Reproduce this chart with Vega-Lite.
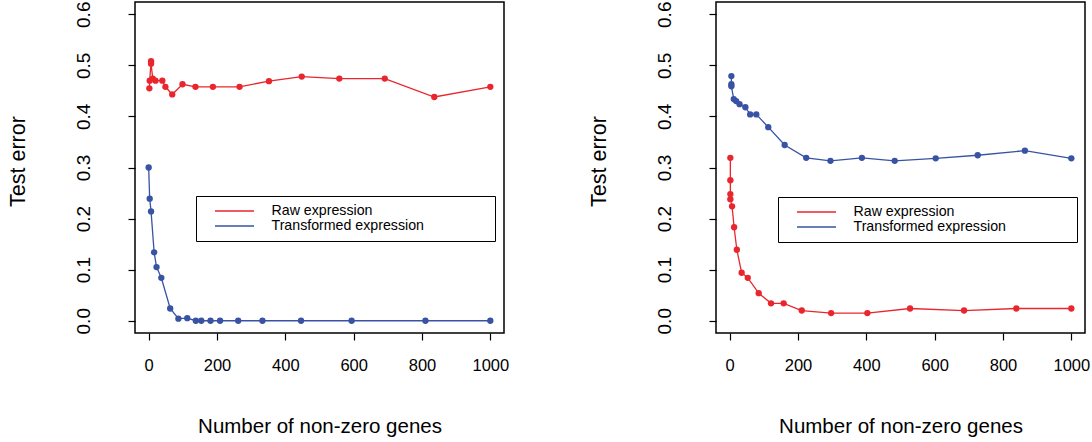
{
  "$schema": "https://vega.github.io/schema/vega-lite/v6.json",
  "padding": {"left": 6, "top": 0, "right": 0, "bottom": 0},
  "background": "white",
  "bounds": "flush",
  "spacing": 212,
  "resolve": {"legend": {"color": "independent"}},
  "config": {
    "font": "Liberation Sans",
    "view": {"stroke": "black", "strokeWidth": 1.5},
    "axis": {
      "domain": false, "grid": false, "tickColor": "black", "tickSize": 7, "tickWidth": 1.2,
      "labelFont": "Liberation Sans", "labelColor": "black",
      "titleFont": "Liberation Sans", "titleFontWeight": "normal", "titleColor": "black"
    },
    "axisX": {"labelFontSize": 16.5, "labelPadding": 17, "titleFontSize": 20.5, "titleBaseline": "alphabetic", "titleY": 99},
    "axisY": {"labelFontSize": 19, "labelAngle": -90, "labelPadding": 35, "titleFontSize": 21.5, "titleAngle": -90, "titleBaseline": "alphabetic", "titleX": -111, "titleY": 159},
    "legend": {
      "title": null, "orient": "none",
      "symbolType": "stroke", "symbolSize": 1521, "symbolStrokeWidth": 1.5,
      "clipHeight": 15, "rowPadding": 0, "padding": 7.5, "symbolOffset": 10.5, "labelOffset": 16.5,
      "labelFontSize": 14.2, "labelLimit": 500, "labelColor": "black", "strokeColor": "black", "fillColor": "white"
    }
  },
  "hconcat": [
    {
      "width": 369, "height": 331,
      "data": {"values": [
        {"series": "Raw expression", "step": 1, "n": 2, "err": 0.455},
        {"series": "Raw expression", "step": 2, "n": 3, "err": 0.470},
        {"series": "Raw expression", "step": 3, "n": 7, "err": 0.508},
        {"series": "Raw expression", "step": 4, "n": 7, "err": 0.503},
        {"series": "Raw expression", "step": 5, "n": 12, "err": 0.474},
        {"series": "Raw expression", "step": 6, "n": 20, "err": 0.470},
        {"series": "Raw expression", "step": 7, "n": 40, "err": 0.470},
        {"series": "Raw expression", "step": 8, "n": 49, "err": 0.458},
        {"series": "Raw expression", "step": 9, "n": 69, "err": 0.443},
        {"series": "Raw expression", "step": 10, "n": 99, "err": 0.463},
        {"series": "Raw expression", "step": 11, "n": 137, "err": 0.458},
        {"series": "Raw expression", "step": 12, "n": 188, "err": 0.458},
        {"series": "Raw expression", "step": 13, "n": 266, "err": 0.458},
        {"series": "Raw expression", "step": 14, "n": 352, "err": 0.469},
        {"series": "Raw expression", "step": 15, "n": 448, "err": 0.478},
        {"series": "Raw expression", "step": 16, "n": 558, "err": 0.474},
        {"series": "Raw expression", "step": 17, "n": 691, "err": 0.474},
        {"series": "Raw expression", "step": 18, "n": 836, "err": 0.438},
        {"series": "Raw expression", "step": 19, "n": 1000, "err": 0.458},
        {"series": "Transformed expression", "step": 1, "n": 0, "err": 0.300},
        {"series": "Transformed expression", "step": 2, "n": 3, "err": 0.239},
        {"series": "Transformed expression", "step": 3, "n": 7, "err": 0.214},
        {"series": "Transformed expression", "step": 4, "n": 16, "err": 0.134},
        {"series": "Transformed expression", "step": 5, "n": 23, "err": 0.105},
        {"series": "Transformed expression", "step": 6, "n": 37, "err": 0.084},
        {"series": "Transformed expression", "step": 7, "n": 63, "err": 0.024},
        {"series": "Transformed expression", "step": 8, "n": 87, "err": 0.004},
        {"series": "Transformed expression", "step": 9, "n": 113, "err": 0.005},
        {"series": "Transformed expression", "step": 10, "n": 138, "err": 0.0},
        {"series": "Transformed expression", "step": 11, "n": 154, "err": 0.0},
        {"series": "Transformed expression", "step": 12, "n": 181, "err": 0.0},
        {"series": "Transformed expression", "step": 13, "n": 209, "err": 0.0},
        {"series": "Transformed expression", "step": 14, "n": 262, "err": 0.0},
        {"series": "Transformed expression", "step": 15, "n": 333, "err": 0.0},
        {"series": "Transformed expression", "step": 16, "n": 446, "err": 0.0},
        {"series": "Transformed expression", "step": 17, "n": 594, "err": 0.0},
        {"series": "Transformed expression", "step": 18, "n": 810, "err": 0.0},
        {"series": "Transformed expression", "step": 19, "n": 1000, "err": 0.0}
      ]},
      "encoding": {
        "x": {"field": "n", "type": "quantitative", "scale": {"domain": [-40, 1040], "nice": false, "zero": false},
              "axis": {"values": [0, 200, 400, 600, 800, 1000], "format": "d", "title": "Number of non-zero genes"}},
        "y": {"field": "err", "type": "quantitative", "scale": {"domain": [-0.024, 0.624], "nice": false, "zero": false},
              "axis": {"values": [0, 0.1, 0.2, 0.3, 0.4, 0.5, 0.6], "format": ".1f", "title": "Test error"}},
        "order": {"field": "step", "type": "quantitative"}
      },
      "layer": [
        {
          "mark": {"type": "line", "strokeWidth": 1.3},
          "encoding": {
            "color": {"field": "series", "type": "nominal",
              "scale": {"domain": ["Raw expression", "Transformed expression"], "range": ["#e9262d", "#3852a4"]},
              "legend": {"legendX": 61, "legendY": 194,
                "labelExpr": "datum.label + '\u00a0\u00a0\u00a0\u00a0\u00a0\u00a0\u00a0\u00a0\u00a0\u00a0\u00a0\u00a0\u00a0\u00a0\u00a0\u00a0\u200b'"}}
          }
        },
        {
          "mark": {"type": "point", "filled": true, "size": 40, "opacity": 1},
          "encoding": {
            "color": {"field": "series", "type": "nominal", "legend": null}
          }
        }
      ]
    },
    {
      "width": 369, "height": 331,
      "data": {"values": [
        {"series": "Raw expression", "step": 1, "n": 2, "err": 0.319},
        {"series": "Raw expression", "step": 2, "n": 2, "err": 0.275},
        {"series": "Raw expression", "step": 3, "n": 2, "err": 0.248},
        {"series": "Raw expression", "step": 4, "n": 2, "err": 0.238},
        {"series": "Raw expression", "step": 5, "n": 7, "err": 0.224},
        {"series": "Raw expression", "step": 6, "n": 13, "err": 0.183},
        {"series": "Raw expression", "step": 7, "n": 21, "err": 0.139},
        {"series": "Raw expression", "step": 8, "n": 35, "err": 0.094},
        {"series": "Raw expression", "step": 9, "n": 53, "err": 0.084},
        {"series": "Raw expression", "step": 10, "n": 85, "err": 0.054},
        {"series": "Raw expression", "step": 11, "n": 121, "err": 0.034},
        {"series": "Raw expression", "step": 12, "n": 158, "err": 0.034},
        {"series": "Raw expression", "step": 13, "n": 211, "err": 0.020},
        {"series": "Raw expression", "step": 14, "n": 297, "err": 0.015},
        {"series": "Raw expression", "step": 15, "n": 403, "err": 0.015},
        {"series": "Raw expression", "step": 16, "n": 528, "err": 0.024},
        {"series": "Raw expression", "step": 17, "n": 686, "err": 0.020},
        {"series": "Raw expression", "step": 18, "n": 839, "err": 0.024},
        {"series": "Raw expression", "step": 19, "n": 1000, "err": 0.024},
        {"series": "Transformed expression", "step": 1, "n": 5, "err": 0.479},
        {"series": "Transformed expression", "step": 2, "n": 5, "err": 0.463},
        {"series": "Transformed expression", "step": 3, "n": 5, "err": 0.459},
        {"series": "Transformed expression", "step": 4, "n": 12, "err": 0.434},
        {"series": "Transformed expression", "step": 5, "n": 19, "err": 0.430},
        {"series": "Transformed expression", "step": 6, "n": 29, "err": 0.424},
        {"series": "Transformed expression", "step": 7, "n": 46, "err": 0.418},
        {"series": "Transformed expression", "step": 8, "n": 60, "err": 0.404},
        {"series": "Transformed expression", "step": 9, "n": 78, "err": 0.404},
        {"series": "Transformed expression", "step": 10, "n": 113, "err": 0.379},
        {"series": "Transformed expression", "step": 11, "n": 161, "err": 0.344},
        {"series": "Transformed expression", "step": 12, "n": 224, "err": 0.319},
        {"series": "Transformed expression", "step": 13, "n": 295, "err": 0.313},
        {"series": "Transformed expression", "step": 14, "n": 387, "err": 0.319},
        {"series": "Transformed expression", "step": 15, "n": 483, "err": 0.313},
        {"series": "Transformed expression", "step": 16, "n": 603, "err": 0.318},
        {"series": "Transformed expression", "step": 17, "n": 726, "err": 0.324},
        {"series": "Transformed expression", "step": 18, "n": 864, "err": 0.333},
        {"series": "Transformed expression", "step": 19, "n": 1000, "err": 0.318}
      ]},
      "encoding": {
        "x": {"field": "n", "type": "quantitative", "scale": {"domain": [-40, 1040], "nice": false, "zero": false},
              "axis": {"values": [0, 200, 400, 600, 800, 1000], "format": "d", "title": "Number of non-zero genes"}},
        "y": {"field": "err", "type": "quantitative", "scale": {"domain": [-0.024, 0.624], "nice": false, "zero": false},
              "axis": {"values": [0, 0.1, 0.2, 0.3, 0.4, 0.5, 0.6], "format": ".1f", "title": "Test error"}},
        "order": {"field": "step", "type": "quantitative"}
      },
      "layer": [
        {
          "mark": {"type": "line", "strokeWidth": 1.3},
          "encoding": {
            "color": {"field": "series", "type": "nominal",
              "scale": {"domain": ["Raw expression", "Transformed expression"], "range": ["#e9262d", "#3852a4"]},
              "legend": {"legendX": 62, "legendY": 195,
                "labelExpr": "datum.label + '\u00a0\u00a0\u00a0\u00a0\u00a0\u00a0\u00a0\u00a0\u00a0\u00a0\u00a0\u00a0\u00a0\u00a0\u00a0\u00a0\u200b'"}}
          }
        },
        {
          "mark": {"type": "point", "filled": true, "size": 40, "opacity": 1},
          "encoding": {
            "color": {"field": "series", "type": "nominal", "legend": null}
          }
        }
      ]
    }
  ]
}
